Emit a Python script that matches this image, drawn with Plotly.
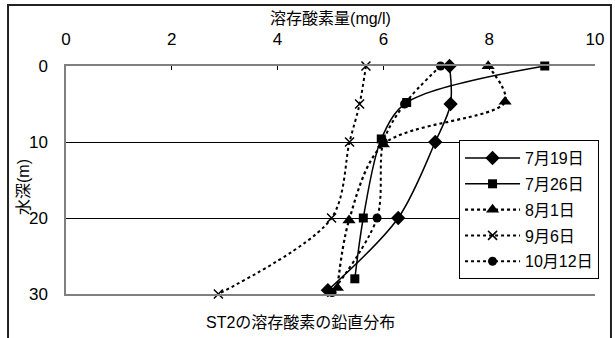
import plotly.graph_objects as go

# Dissolved oxygen (mg/l) vs depth (m) at station ST2
dates = ["7月19日", "7月26日", "8月1日", "9月6日", "10月12日"]

depth_0719 = [0, 5, 10, 20, 29.5]
do_0719 = [7.25, 7.27, 6.98, 6.28, 4.95]

depth_0726 = [0, 4.8, 9.6, 20, 28]
do_0726 = [9.05, 6.44, 5.96, 5.62, 5.46]

depth_0801 = [0, 4.7, 10.3, 20.3, 29.2]
do_0801 = [7.98, 8.3, 6.0, 5.35, 5.13]

depth_0906 = [0, 5, 10, 20, 30]
do_0906 = [5.67, 5.55, 5.36, 5.02, 2.88]

depth_1012 = [0, 5, 10, 20, 29.8]
do_1012 = [7.08, 6.4, 6.0, 5.88, 5.03]

x_ticks = [0, 2, 4, 6, 8, 10]
y_ticks = [0, 10, 20, 30]

FONT = "Liberation Sans, Arial, Noto Sans CJK JP, sans-serif"

series = [
    (dates[0], do_0719, depth_0719, "diamond", 11, "solid", 1.5),
    (dates[1], do_0726, depth_0726, "square", 9, "solid", 1.5),
    (dates[2], do_0801, depth_0801, "triangle-up", 11.5, "dot", 2.2),
    (dates[3], do_0906, depth_0906, "x-thin", 9, "dot", 2),
    (dates[4], do_1012, depth_1012, "circle", 9, "dot", 2),
]

fig = go.Figure()
for name, xs, ys, sym, size, dash, width in series:
    fig.add_trace(go.Scatter(
        x=xs, y=ys, name=name, legendgroup=name, mode="lines+markers",
        line=dict(color="black", width=width, dash=dash, shape="spline", smoothing=0.9),
        marker=dict(symbol=sym, size=size, color="black",
                    line=dict(color="black", width=1.5 if sym == "x-thin" else 0)),
        cliponaxis=False,
    ))

fig.update_layout(
    width=615, height=338,
    margin=dict(l=66, r=20, t=66, b=44),
    paper_bgcolor="white", plot_bgcolor="white",
    font=dict(family=FONT, size=16, color="black"),
    showlegend=True,
    legend=dict(
        x=0.743, y=0.675, xanchor="left", yanchor="top",
        bordercolor="black", borderwidth=1, bgcolor="white",
        font=dict(family=FONT, size=16), itemwidth=55,
        traceorder="grouped", tracegroupgap=2,
    ),
    xaxis=dict(
        side="top", range=[0, 10], tickvals=x_ticks,
        tickfont=dict(size=17),
        showgrid=False, zeroline=False,
        showline=True, linecolor="#808080", linewidth=2, mirror=True,
        ticks="inside", ticklen=4, tickcolor="black",
        ticklabelstandoff=12,
        title=dict(text="溶存酸素量(mg/l)", font=dict(size=16), standoff=2),
    ),
    yaxis=dict(
        range=[30, 0], tickvals=y_ticks,
        tickfont=dict(size=17),
        showgrid=True, gridcolor="black", gridwidth=1,
        zeroline=False,
        showline=True, linecolor="#808080", linewidth=1.5,
        ticks="", ticklabelstandoff=13,
    ),
    shapes=[dict(
        type="rect", xref="paper", yref="paper",
        x0=-0.1096, x1=1.0302, y0=-0.3, y1=1.2675,
        line=dict(color="#222", width=2), fillcolor="rgba(0,0,0,0)", layer="below",
    )],
    annotations=[
        dict(text="水深(m)", textangle=-90, xref="paper", yref="paper",
             x=(23 - 66) / 529, y=(294 - 187) / 228, showarrow=False,
             xanchor="center", yanchor="middle", font=dict(size=16)),
        dict(text="ST2の溶存酸素の鉛直分布", xref="paper", yref="paper",
             x=(300 - 66) / 529, y=(294 - 322) / 228, showarrow=False,
             xanchor="center", yanchor="middle", font=dict(size=16)),
    ],
)

fig.write_html("out.html")
